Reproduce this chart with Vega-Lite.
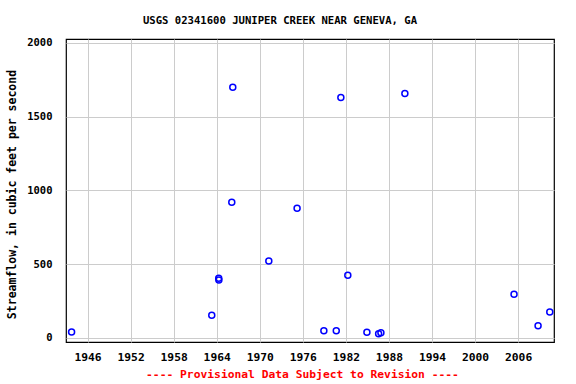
{
  "$schema": "https://vega.github.io/schema/vega-lite/v6.json",
  "autosize": "none",
  "width": 488,
  "height": 303,
  "padding": {"left": 66, "top": 39, "right": 22, "bottom": 42},
  "background": "white",
  "title": {
    "text": "USGS 02341600 JUNIPER CREEK NEAR GENEVA, GA",
    "font": "DejaVu Sans Mono",
    "fontSize": 10.6,
    "fontWeight": "bold",
    "color": "black",
    "anchor": "middle",
    "dx": -30,
    "offset": 3,
    "baseline": "alphabetic"
  },
  "config": {
    "view": {"stroke": "black", "strokeWidth": 1.2},
    "axis": {
      "labelFont": "DejaVu Sans Mono",
      "labelFontWeight": "bold",
      "labelColor": "black",
      "titleFont": "DejaVu Sans Mono",
      "titleFontWeight": "bold",
      "gridColor": "#cccccc",
      "gridWidth": 1,
      "gridOpacity": 1,
      "ticks": false,
      "domain": false
    }
  },
  "data": {
    "values": [
      {"year": 1943.78, "flow": 39},
      {"year": 1963.31, "flow": 153},
      {"year": 1964.28, "flow": 403},
      {"year": 1964.3, "flow": 392},
      {"year": 1966.24, "flow": 1700},
      {"year": 1966.1, "flow": 920},
      {"year": 1971.26, "flow": 520},
      {"year": 1975.2, "flow": 878},
      {"year": 1981.3, "flow": 1630},
      {"year": 1990.22, "flow": 1658},
      {"year": 1982.27, "flow": 424},
      {"year": 1978.93, "flow": 47},
      {"year": 1980.66, "flow": 47},
      {"year": 1984.93, "flow": 38},
      {"year": 1986.56, "flow": 27},
      {"year": 1986.88, "flow": 34},
      {"year": 2005.43, "flow": 295},
      {"year": 2008.78, "flow": 81},
      {"year": 2010.41, "flow": 174}
    ]
  },
  "mark": {"type": "point", "shape": "circle", "filled": false, "color": "blue", "strokeWidth": 1.5, "size": 36, "opacity": 1},
  "encoding": {
    "x": {
      "field": "year",
      "type": "quantitative",
      "scale": {"domain": [1943, 2011], "nice": false, "zero": false},
      "axis": {
        "values": [1946, 1952, 1958, 1964, 1970, 1976, 1982, 1988, 1994, 2000, 2006],
        "format": "d",
        "labelFontSize": 11.3,
        "labelPadding": 9,
        "title": "---- Provisional Data Subject to Revision ----",
        "titleColor": "red",
        "titleFontSize": 11.3,
        "titleX": 236,
        "titleY": 32,
        "titleBaseline": "middle",
        "titleAlign": "center"
      }
    },
    "y": {
      "field": "flow",
      "type": "quantitative",
      "scale": {"domain": [-29, 2027], "nice": false, "zero": false},
      "axis": {
        "values": [0, 500, 1000, 1500, 2000],
        "format": "d",
        "labelFontSize": 10.5,
        "labelPadding": 14,
        "title": "Streamflow, in cubic feet per second",
        "titleColor": "black",
        "titleFontSize": 11.5,
        "titleX": -54,
        "titleY": 155,
        "titleAngle": -90,
        "titleBaseline": "middle",
        "titleAlign": "center"
      }
    }
  }
}
